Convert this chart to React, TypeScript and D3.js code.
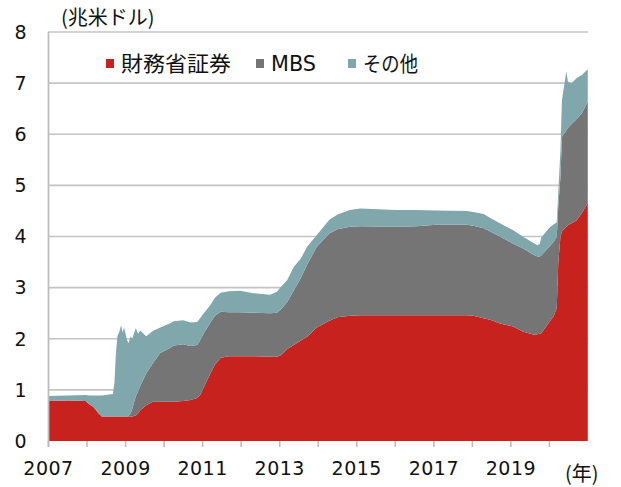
import React from "react";
import * as d3 from "d3";

const dates = [
  "2007-01-03","2007-06-27","2007-12-19","2008-01-23","2008-03-05","2008-04-16","2008-05-21",
  "2008-09-03","2008-09-17","2008-10-01","2008-10-15","2008-11-05","2008-11-19","2008-12-03","2008-12-17",
  "2009-01-14","2009-01-28","2009-02-18","2009-03-04","2009-04-08","2009-04-29","2009-05-20","2009-07-15",
  "2009-09-16","2009-11-25","2010-02-24","2010-04-01",
  "2010-07-01","2010-09-08","2010-11-10","2010-12-08","2011-01-12","2011-03-16","2011-04-27","2011-06-22",
  "2011-09-07","2011-12-21","2012-04-25","2012-10-03","2012-12-05","2013-01-16","2013-03-13","2013-05-15",
  "2013-07-17","2013-09-18","2013-12-18","2014-04-16","2014-07-02","2014-10-29","2015-02-04","2016-01-06",
  "2016-07-20","2017-01-25","2017-11-08","2018-01-10","2018-04-18","2018-06-20","2018-09-19","2019-01-23",
  "2019-04-24","2019-08-07","2019-09-11","2019-10-02","2019-10-16","2019-12-31","2020-02-12","2020-03-11",
  "2020-03-25","2020-04-15","2020-04-29","2020-06-10","2020-06-24","2020-07-29","2020-09-16","2020-11-04",
  "2020-12-30",
];

// 財務省証券 (兆米ドル)
const treasury = [
  0.78,0.79,0.78,0.72,0.66,0.55,0.48,
  0.48,0.48,0.48,0.48,0.48,0.48,0.48,0.48,
  0.48,0.48,0.48,0.48,0.50,0.54,0.60,0.70,
  0.77,0.77,0.77,0.77,
  0.78,0.80,0.84,0.90,1.05,1.32,1.49,1.63,
  1.66,1.66,1.66,1.65,1.65,1.68,1.80,1.88,
  1.96,2.04,2.22,2.35,2.42,2.45,2.46,2.46,
  2.46,2.46,2.46,2.45,2.40,2.37,2.30,2.24,
  2.14,2.08,2.09,2.10,2.11,2.33,2.45,2.60,
  3.48,4.00,4.10,4.19,4.22,4.26,4.32,4.46,
  4.66,
];

// MBS
const mbs = [
  0,0,0,0,0,0,0,
  0,0,0,0,0,0,0,0,
  0,0.01,0.07,0.14,0.38,0.43,0.48,0.62,
  0.75,0.95,1.05,1.10,
  1.11,1.06,1.04,1.07,1.06,1.00,0.96,0.90,
  0.86,0.86,0.85,0.85,0.86,0.90,0.92,1.07,
  1.22,1.41,1.58,1.71,1.72,1.74,1.74,1.73,
  1.74,1.77,1.77,1.76,1.76,1.73,1.70,1.62,
  1.63,1.56,1.52,1.51,1.52,1.47,1.45,1.40,
  1.10,1.17,1.85,1.89,1.90,1.94,1.98,1.95,
  1.98,
];

// その他
const other = [
  0.10,0.10,0.12,0.17,0.23,0.34,0.41,
  0.44,0.67,1.22,1.57,1.67,1.79,1.64,1.74,
  1.50,1.42,1.50,1.38,1.33,1.13,1.08,0.73,
  0.63,0.50,0.48,0.47,
  0.47,0.46,0.45,0.43,0.39,0.34,0.35,0.37,
  0.41,0.42,0.38,0.36,0.41,0.44,0.43,0.46,
  0.38,0.35,0.23,0.27,0.29,0.33,0.35,0.33,
  0.32,0.28,0.27,0.27,0.28,0.26,0.26,0.26,
  0.23,0.23,0.22,0.25,0.35,0.37,0.34,0.28,
  0.27,0.52,0.72,1.15,0.91,0.80,0.80,0.75,
  0.63,
];

const seriesKeys = ["treasury", "mbs", "other"];
const seriesNames = ["財務省証券", "MBS", "その他"];
const seriesColors = ["#C8221F", "#757575", "#80A8AC"];

const yTicks = [0, 1, 2, 3, 4, 5, 6, 7, 8];
const xLabelYears = [2007, 2009, 2011, 2013, 2015, 2017, 2019];
const xTickYears = [2007, 2008, 2009, 2010, 2011, 2012, 2013, 2014, 2015, 2016, 2017, 2018, 2019, 2020];

const FONT = "'DejaVu Sans', 'Noto Sans CJK JP', sans-serif";
const CJK = "'Noto Sans CJK JP', 'DejaVu Sans', sans-serif";

export default function App() {
  const W = 621, H = 487;
  const parse = d3.timeParse("%Y-%m-%d");
  const rows = dates.map((d, i) => ({
    date: parse(d) as Date,
    treasury: treasury[i],
    mbs: mbs[i],
    other: other[i],
  }));

  const x = d3.scaleTime()
    .domain([new Date(2007, 0, 1), new Date(2021, 0, 1)])
    .range([48.5, 588]);
  const y = d3.scaleLinear().domain([0, 8]).range([441, 32]);

  const stack = d3.stack<any>().keys(seriesKeys);
  const layers = stack(rows);
  const area = d3.area<any>()
    .x((d) => x(d.data.date))
    .y0((d) => y(d[0]))
    .y1((d) => y(d[1]))
    .curve(d3.curveLinear);

  const legendX = [106, 256, 348];
  const legendLen = [110, 45, 55];

  return (
    <div style={{ position: "fixed", left: 0, top: 0 }}>
      <svg width={W} height={H} style={{ display: "block", background: "#fff" }}>
        {yTicks.filter((t) => t > 0).map((t) => (
          <line key={t} x1={48} x2={588} y1={y(t)} y2={y(t)} stroke="#C4C4C4" strokeWidth={1.6} />
        ))}
        {layers.map((layer, i) => (
          <path key={seriesKeys[i]} d={area(layer) || ""} fill={seriesColors[i]} />
        ))}
        <line x1={48.5} x2={48.5} y1={32} y2={447} stroke="#BDBDBD" strokeWidth={1.8} />
        {xTickYears.map((yr) => {
          const xx = x(new Date(yr, 0, 1));
          return <line key={yr} x1={xx} x2={xx} y1={441} y2={447} stroke="#BDBDBD" strokeWidth={1.6} />;
        })}
        {yTicks.map((t) => (
          <text key={t} x={26.5} y={y(t)} dy="0.36em" textAnchor="end" fontFamily={FONT} fontSize={19} fill="#111">
            {t}
          </text>
        ))}
        {xLabelYears.map((yr) => (
          <text key={yr} x={x(new Date(yr, 0, 1))} y={475} textAnchor="middle" fontFamily={FONT} fontSize={19} letterSpacing={0.5} fill="#111">
            {yr}
          </text>
        ))}
        <text x={61} y={25} fontFamily={CJK} fontSize={20} fill="#111">(兆米ドル)</text>
        <text x={565} y={481} fontFamily={CJK} fontSize={20} fill="#111">(年)</text>
        {seriesNames.map((name, i) => (
          <g key={name}>
            <rect x={legendX[i]} y={59} width={8} height={9} fill={seriesColors[i]} />
            <text
              x={legendX[i] + 15}
              y={71}
              fontFamily={i === 1 ? FONT : CJK}
              fontSize={21}
              fill="#111"
              textLength={legendLen[i]}
              lengthAdjust="spacingAndGlyphs"
            >
              {name}
            </text>
          </g>
        ))}
      </svg>
    </div>
  );
}
